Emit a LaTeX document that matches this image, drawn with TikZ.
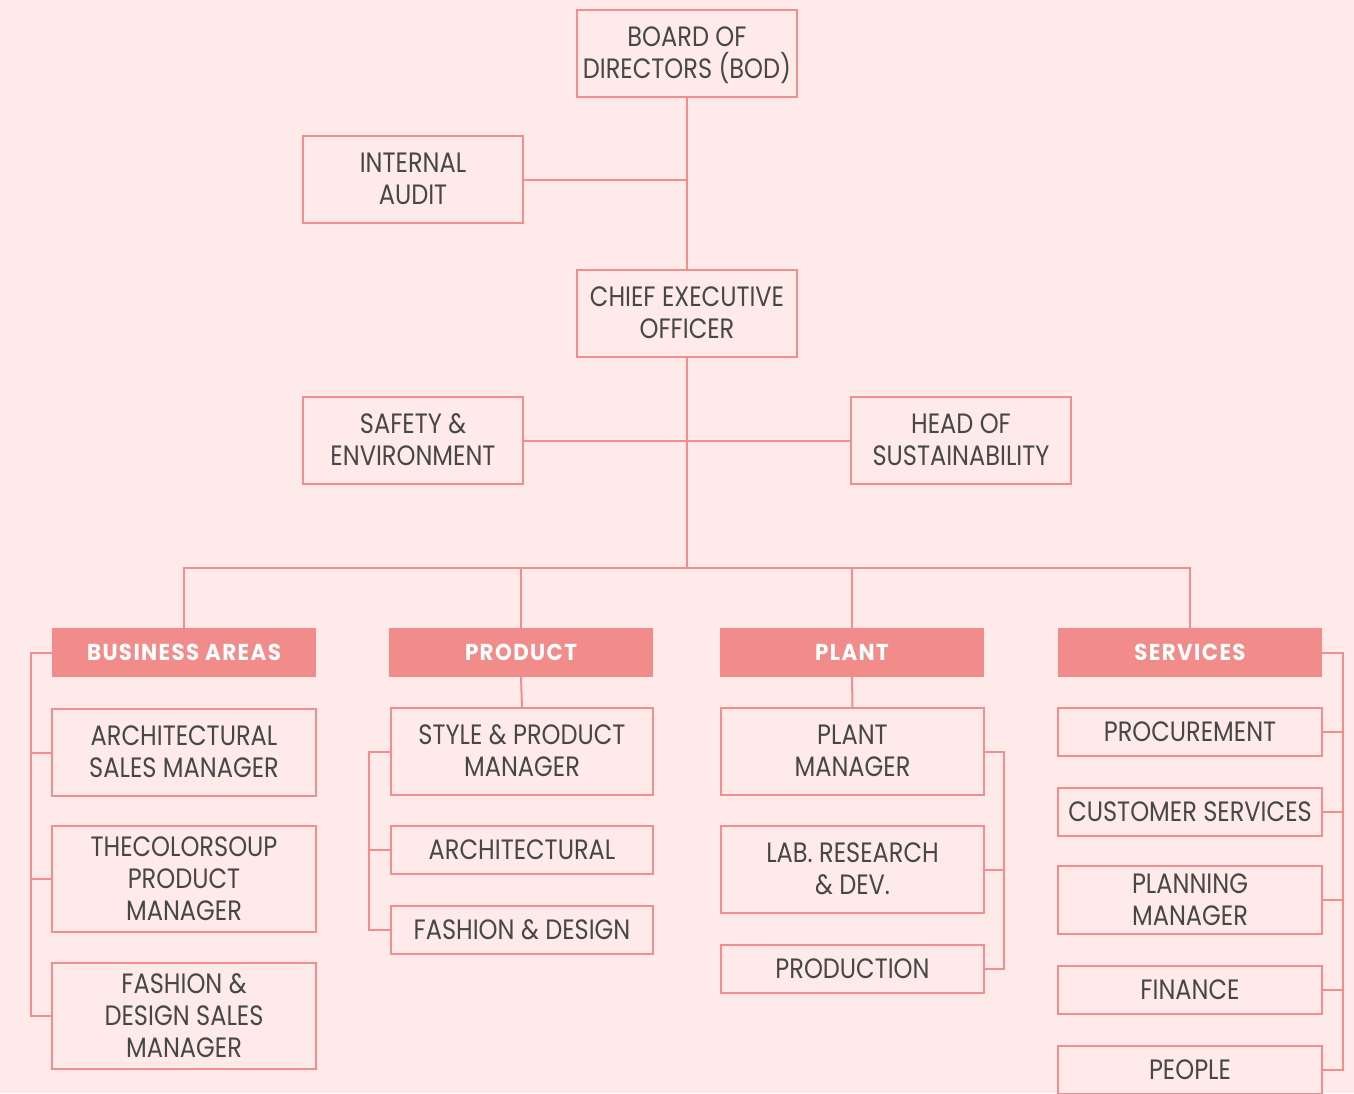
\documentclass[tikz,border=0pt]{standalone}
\usepackage{fontspec}
\setmainfont{Poppins}[FakeStretch=0.86]
\newfontfamily\hdrfont{Poppins}[FakeStretch=0.93,LetterSpace=6]
\definecolor{bgc}{HTML}{FDEAE9}
\definecolor{linec}{HTML}{F28E8E}
\definecolor{hdrc}{HTML}{F18C8B}
\definecolor{txtc}{HTML}{474747}
\begin{document}
\begin{tikzpicture}[x=1pt,y=-1pt,
  box/.style={draw=linec,line width=2pt,text=txtc,align=center,inner sep=0pt,
    minimum width=220pt,minimum height=87pt,font=\fontsize{28}{32}\selectfont},
  ml/.style={text depth=1pt},
  wbox/.style={box,minimum width=263pt},
  hdr/.style={fill=hdrc,text=white,inner sep=0pt,minimum width=264pt,minimum height=49pt,
    font=\hdrfont\bfseries\fontsize{23}{26}\selectfont},
  conn/.style={draw=linec,line width=2pt}]
\fill[bgc] (0,0) rectangle (1354,1093);
\useasboundingbox (0,0) rectangle (1354,1093);
% top
\node[box,ml] (bod) at (687,53.5) {BOARD OF\\DIRECTORS (BOD)};
\node[box,ml] (audit) at (413,179.5) {INTERNAL\\AUDIT};
\node[box,ml] (ceo) at (687,313.5) {CHIEF EXECUTIVE\\OFFICER};
\node[box,ml] (safety) at (413,440.5) {SAFETY \&\\ENVIRONMENT};
\node[box,ml] (sust) at (961,440.5) {HEAD OF\\SUSTAINABILITY};
\coordinate (bus) at (687,568);
% headers
\node[hdr] (ba) at (184,652.5) {BUSINESS AREAS};
\node[hdr] (pr) at (521,652.5) {PRODUCT};
\node[hdr] (pl) at (852,652.5) {PLANT};
\node[hdr] (sv) at (1190,652.5) {SERVICES};
% business
\node[wbox,ml,minimum width=264pt] (b1) at (184,752.5) {ARCHITECTURAL\\SALES MANAGER};
\node[wbox,ml,minimum width=264pt,minimum height=106pt] (b2) at (184,879) {THECOLORSOUP\\PRODUCT\\MANAGER};
\node[wbox,ml,minimum width=264pt,minimum height=106pt] (b3) at (184,1016) {FASHION \&\\DESIGN SALES\\MANAGER};
% product
\node[wbox,ml,minimum width=262pt] (p1) at (522,751.5) {STYLE \& PRODUCT\\MANAGER};
\node[wbox,minimum width=262pt,minimum height=48pt] (p2) at (522,850) {ARCHITECTURAL};
\node[wbox,minimum width=262pt,minimum height=48pt] (p3) at (522,930) {FASHION \& DESIGN};
% plant
\node[wbox,ml] (l1) at (852.5,751.5) {PLANT\\MANAGER};
\node[wbox,ml] (l2) at (852.5,869.5) {LAB. RESEARCH\\\& DEV.};
\node[wbox,minimum height=48pt] (l3) at (852.5,969) {PRODUCTION};
% services
\node[wbox,minimum width=264pt,minimum height=48pt] (s1) at (1190,732) {PROCUREMENT};
\node[wbox,minimum width=264pt,minimum height=48pt] (s2) at (1190,812) {CUSTOMER SERVICES};
\node[wbox,ml,minimum width=264pt,minimum height=68pt] (s3) at (1190,900) {PLANNING\\MANAGER};
\node[wbox,minimum width=264pt,minimum height=48pt] (s4) at (1190,990) {FINANCE};
\node[wbox,minimum width=264pt,minimum height=48pt] (s5) at (1190,1070) {PEOPLE};
% bracket columns
\coordinate (bx) at (31,0);
\coordinate (px) at (369,0);
\coordinate (lx) at (1004,0);
\coordinate (sx) at (1343,0);
% connectors
\draw[conn] (bod.south) -- (ceo.north);
\draw[conn] (audit.east) -- (audit.east -| bod.south);
\draw[conn] (safety.east) -- (sust.west);
\draw[conn] (ceo.south) -- (bus);
\draw[conn] (ba.north) -- (ba.north |- bus) -- (sv.north |- bus) -- (sv.north);
\draw[conn] (pr.north) -- (pr.north |- bus);
\draw[conn] (pl.north) -- (pl.north |- bus);
\draw[conn] (pr.south) -- (p1.north);
\draw[conn] (pl.south) -- (l1.north);
% business bracket
\draw[conn] (ba.west) -- (ba.west -| bx) |- (b3.west);
\draw[conn] (b1.west) -- (b1.west -| bx);
\draw[conn] (b2.west) -- (b2.west -| bx);
% product bracket
\draw[conn] (p1.west) -- (p1.west -| px) |- (p3.west);
\draw[conn] (p2.west) -- (p2.west -| px);
% plant bracket
\draw[conn] (l1.east) -- (l1.east -| lx) |- (l3.east);
\draw[conn] (l2.east) -- (l2.east -| lx);
% services bracket
\draw[conn] (sv.east) -- (sv.east -| sx) |- (s5.east);
\draw[conn] (s1.east) -- (s1.east -| sx);
\draw[conn] (s2.east) -- (s2.east -| sx);
\draw[conn] (s3.east) -- (s3.east -| sx);
\draw[conn] (s4.east) -- (s4.east -| sx);
\end{tikzpicture}
\end{document}
